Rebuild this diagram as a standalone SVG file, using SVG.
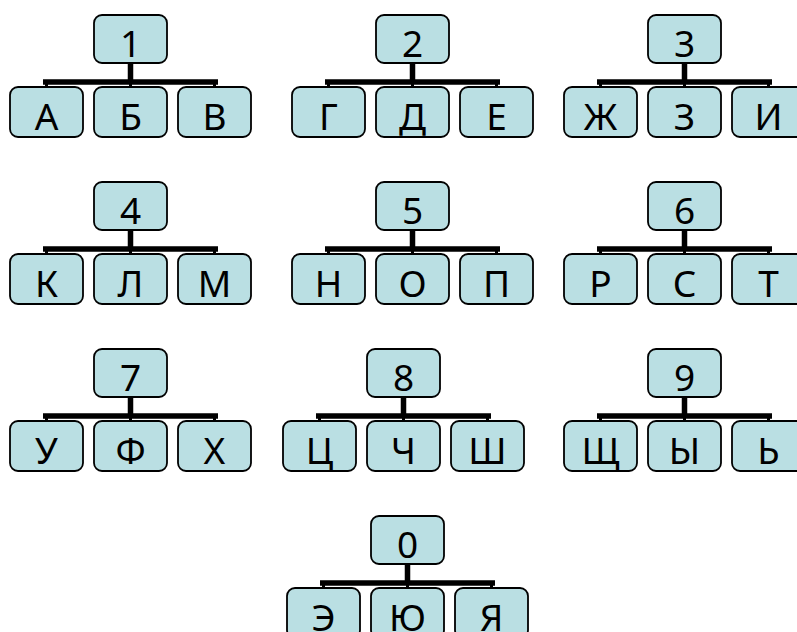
<svg xmlns="http://www.w3.org/2000/svg" width="797" height="632" viewBox="0 0 797 632">
<style>
.box{fill:#BADFE3;stroke:#000;stroke-width:1.8}
.t{font-family:"Noto Sans","Liberation Sans",sans-serif;font-size:37px;fill:#000;text-anchor:middle}
.c{fill:none;stroke:#000;stroke-width:5.5}
.d{fill:none;stroke:#000;stroke-width:3}
</style>
<rect width="797" height="632" fill="#fff"/>
<defs>
<g id="conn">
<path class="c" d="M120.5 48V67M33 67H208"/>
<path class="d" d="M36.5 67V72M120.5 67V72M204.5 67V72"/>
</g>
</defs>
<g id="connectors">
<use href="#conn" transform="translate(10,15)"/>
<use href="#conn" transform="translate(292,15)"/>
<use href="#conn" transform="translate(564,15)"/>
<use href="#conn" transform="translate(10,182)"/>
<use href="#conn" transform="translate(292,182)"/>
<use href="#conn" transform="translate(564,182)"/>
<use href="#conn" transform="translate(10,349)"/>
<use href="#conn" transform="translate(283,349)"/>
<use href="#conn" transform="translate(564,349)"/>
<use href="#conn" transform="translate(287,516)"/>
</g>
<g id="g1" transform="translate(10,15)">
<g id="n1"><rect class="box" x="84" y="0" width="73" height="48" rx="8"/><text class="t" x="120.5" y="42">1</text></g>
<g id="nA"><rect class="box" x="0" y="72" width="73" height="50" rx="8"/><text class="t" x="36.5" y="115">А</text></g>
<g id="nB"><rect class="box" x="84" y="72" width="73" height="50" rx="8"/><text class="t" x="120.5" y="115">Б</text></g>
<g id="nV"><rect class="box" x="168" y="72" width="73" height="50" rx="8"/><text class="t" x="204.5" y="115">В</text></g>
</g>
<g id="g2" transform="translate(292,15)">
<g id="n2"><rect class="box" x="84" y="0" width="73" height="48" rx="8"/><text class="t" x="120.5" y="42">2</text></g>
<g id="nG"><rect class="box" x="0" y="72" width="73" height="50" rx="8"/><text class="t" x="36.5" y="115">Г</text></g>
<g id="nD"><rect class="box" x="84" y="72" width="73" height="50" rx="8"/><text class="t" x="120.5" y="115">Д</text></g>
<g id="nE"><rect class="box" x="168" y="72" width="73" height="50" rx="8"/><text class="t" x="204.5" y="115">Е</text></g>
</g>
<g id="g3" transform="translate(564,15)">
<g id="n3"><rect class="box" x="84" y="0" width="73" height="48" rx="8"/><text class="t" x="120.5" y="42">3</text></g>
<g id="nZh"><rect class="box" x="0" y="72" width="73" height="50" rx="8"/><text class="t" x="36.5" y="115">Ж</text></g>
<g id="nZ"><rect class="box" x="84" y="72" width="73" height="50" rx="8"/><text class="t" x="120.5" y="115">З</text></g>
<g id="nI"><rect class="box" x="168" y="72" width="73" height="50" rx="8"/><text class="t" x="204.5" y="115">И</text></g>
</g>
<g id="g4" transform="translate(10,182)">
<g id="n4"><rect class="box" x="84" y="0" width="73" height="48" rx="8"/><text class="t" x="120.5" y="42">4</text></g>
<g id="nK"><rect class="box" x="0" y="72" width="73" height="50" rx="8"/><text class="t" x="36.5" y="115">К</text></g>
<g id="nL"><rect class="box" x="84" y="72" width="73" height="50" rx="8"/><text class="t" x="120.5" y="115">Л</text></g>
<g id="nM"><rect class="box" x="168" y="72" width="73" height="50" rx="8"/><text class="t" x="204.5" y="115">М</text></g>
</g>
<g id="g5" transform="translate(292,182)">
<g id="n5"><rect class="box" x="84" y="0" width="73" height="48" rx="8"/><text class="t" x="120.5" y="42">5</text></g>
<g id="nN"><rect class="box" x="0" y="72" width="73" height="50" rx="8"/><text class="t" x="36.5" y="115">Н</text></g>
<g id="nO"><rect class="box" x="84" y="72" width="73" height="50" rx="8"/><text class="t" x="120.5" y="115">О</text></g>
<g id="nP"><rect class="box" x="168" y="72" width="73" height="50" rx="8"/><text class="t" x="204.5" y="115">П</text></g>
</g>
<g id="g6" transform="translate(564,182)">
<g id="n6"><rect class="box" x="84" y="0" width="73" height="48" rx="8"/><text class="t" x="120.5" y="42">6</text></g>
<g id="nR"><rect class="box" x="0" y="72" width="73" height="50" rx="8"/><text class="t" x="36.5" y="115">Р</text></g>
<g id="nS"><rect class="box" x="84" y="72" width="73" height="50" rx="8"/><text class="t" x="120.5" y="115">С</text></g>
<g id="nT"><rect class="box" x="168" y="72" width="73" height="50" rx="8"/><text class="t" x="204.5" y="115">Т</text></g>
</g>
<g id="g7" transform="translate(10,349)">
<g id="n7"><rect class="box" x="84" y="0" width="73" height="48" rx="8"/><text class="t" x="120.5" y="42">7</text></g>
<g id="nU"><rect class="box" x="0" y="72" width="73" height="50" rx="8"/><text class="t" x="36.5" y="115">У</text></g>
<g id="nF"><rect class="box" x="84" y="72" width="73" height="50" rx="8"/><text class="t" x="120.5" y="115">Ф</text></g>
<g id="nH"><rect class="box" x="168" y="72" width="73" height="50" rx="8"/><text class="t" x="204.5" y="115">Х</text></g>
</g>
<g id="g8" transform="translate(283,349)">
<g id="n8"><rect class="box" x="84" y="0" width="73" height="48" rx="8"/><text class="t" x="120.5" y="42">8</text></g>
<g id="nTs"><rect class="box" x="0" y="72" width="73" height="50" rx="8"/><text class="t" x="36.5" y="115">Ц</text></g>
<g id="nCh"><rect class="box" x="84" y="72" width="73" height="50" rx="8"/><text class="t" x="120.5" y="115">Ч</text></g>
<g id="nSh"><rect class="box" x="168" y="72" width="73" height="50" rx="8"/><text class="t" x="204.5" y="115">Ш</text></g>
</g>
<g id="g9" transform="translate(564,349)">
<g id="n9"><rect class="box" x="84" y="0" width="73" height="48" rx="8"/><text class="t" x="120.5" y="42">9</text></g>
<g id="nShch"><rect class="box" x="0" y="72" width="73" height="50" rx="8"/><text class="t" x="36.5" y="115">Щ</text></g>
<g id="nY"><rect class="box" x="84" y="72" width="73" height="50" rx="8"/><text class="t" x="120.5" y="115">Ы</text></g>
<g id="nSoft"><rect class="box" x="168" y="72" width="73" height="50" rx="8"/><text class="t" x="204.5" y="115">Ь</text></g>
</g>
<g id="g0" transform="translate(287,516)">
<g id="n0"><rect class="box" x="84" y="0" width="73" height="48" rx="8"/><text class="t" x="120.5" y="42">0</text></g>
<g id="nEe"><rect class="box" x="0" y="72" width="73" height="50" rx="8"/><text class="t" x="36.5" y="115">Э</text></g>
<g id="nYu"><rect class="box" x="84" y="72" width="73" height="50" rx="8"/><text class="t" x="120.5" y="115">Ю</text></g>
<g id="nYa"><rect class="box" x="168" y="72" width="73" height="50" rx="8"/><text class="t" x="204.5" y="115">Я</text></g>
</g>
</svg>
